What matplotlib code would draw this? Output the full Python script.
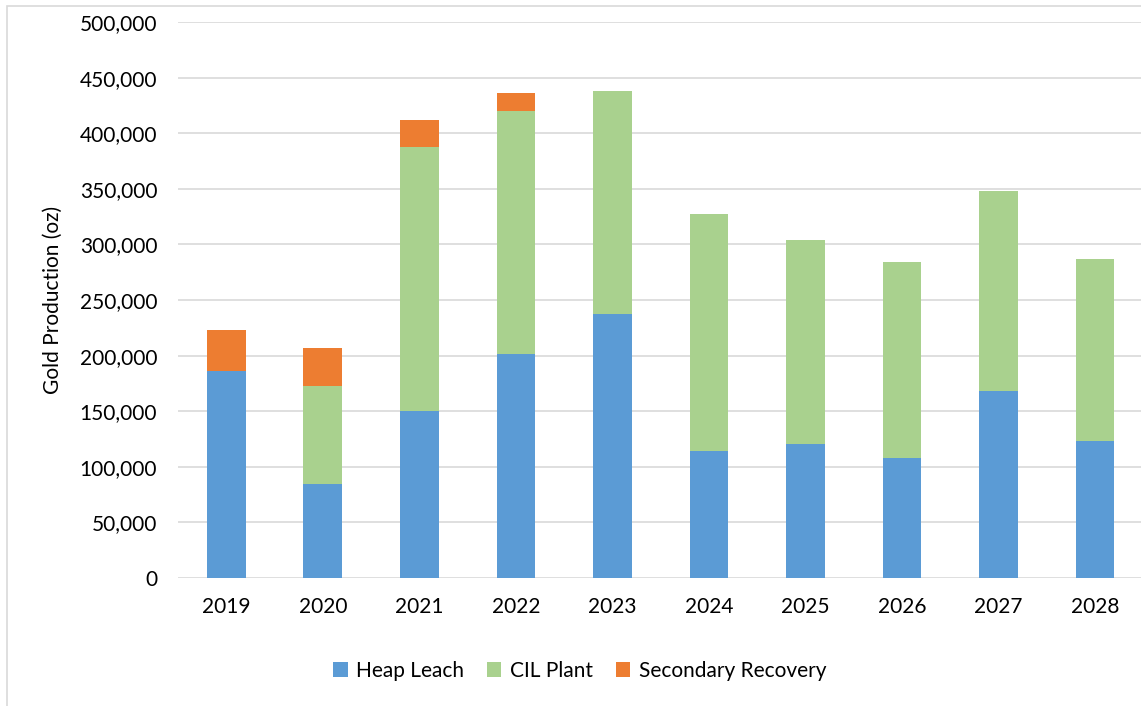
import numpy as np
import matplotlib.pyplot as plt
from matplotlib.patches import Rectangle
from matplotlib.ticker import FuncFormatter

plt.rcParams['font.family'] = ['Lato', 'DejaVu Sans']

years = ['2019', '2020', '2021', '2022', '2023', '2024', '2025', '2026', '2027', '2028']
heap_leach = np.array([186000, 84500, 150000, 201500, 237500, 114000, 120500, 108000, 168000, 123000])
cil_plant = np.array([0, 88000, 237500, 218500, 200500, 213500, 183500, 176500, 180000, 164000])
secondary = np.array([37000, 34500, 24500, 16000, 0, 0, 0, 0, 0, 0])

fig = plt.figure(figsize=(11.41, 7.06), dpi=100)
ax = fig.add_axes([0.156, 0.1813, 0.846, 0.7875])

x = np.arange(len(years))
w = 0.4
ax.bar(x, heap_leach, w, color='#5B9BD5', label='Heap Leach', zorder=3, linewidth=0)
ax.bar(x, cil_plant, w, bottom=heap_leach, color='#A9D18E', label='CIL Plant', zorder=3, linewidth=0)
ax.bar(x, secondary, w, bottom=heap_leach + cil_plant, color='#ED7D31', label='Secondary Recovery', zorder=3, linewidth=0)

ax.set_xlim(-0.5, 9.5)
ax.set_ylim(0, 500000)
ax.set_yticks(np.arange(0, 500001, 50000))
ax.yaxis.set_major_formatter(FuncFormatter(lambda v, p: f'{int(v):,}'))
ax.set_xticks(x)
ax.set_xticklabels(years)
ax.grid(axis='y', color='#d9d9d9', linewidth=1.2, zorder=0)
for s in ax.spines.values():
    s.set_visible(False)
ax.tick_params(length=0, labelsize=15, colors='black')
ax.tick_params(axis='x', pad=14)
ax.tick_params(axis='y', pad=15)
ax.set_ylabel('Gold Production (oz)', fontsize=15, labelpad=12)

ax.legend(loc='upper center', bbox_to_anchor=(0.416, -0.115), ncol=3, frameon=False,
          fontsize=15, handlelength=0.7, handleheight=0.7, handletextpad=0.4, columnspacing=1.1)

fig.patches.append(Rectangle((7 / 1141, -0.01), 1.02, 1 - 6 / 706 + 0.01, transform=fig.transFigure,
                             fill=False, edgecolor='#d9d9d9', linewidth=1.2))

plt.savefig('out.png', dpi=100)
